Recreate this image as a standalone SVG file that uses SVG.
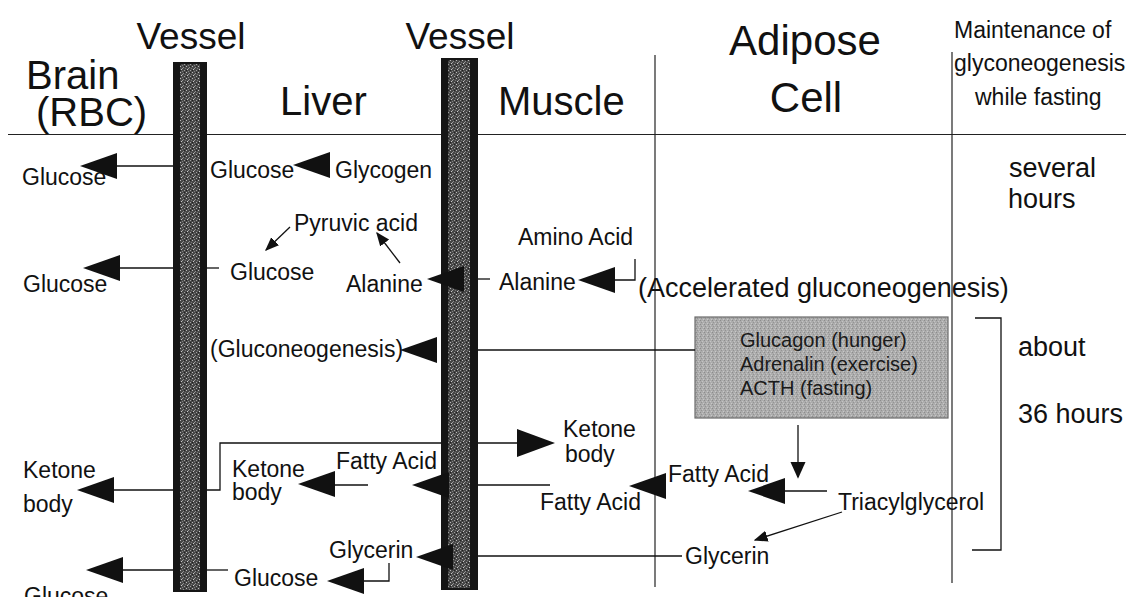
<svg xmlns="http://www.w3.org/2000/svg" width="1126" height="597" viewBox="0 0 1126 597">
<style>
.t{font-family:"Liberation Sans",Arial,sans-serif;fill:#111}
.hv{font-size:37px}
.h1{font-size:40px}
.hA{font-size:42px}
.b{font-size:23px}
.m{font-size:27px}
.s{font-size:20px;fill:#1a1a1a}
.ln{stroke:#111;stroke-width:1.3;fill:none}
.rule{stroke:#222;stroke-width:1.2;fill:none}
.hd{fill:#111}
.bar{fill:#151515}
</style>
<defs>
<pattern id="speck" width="6" height="6" patternUnits="userSpaceOnUse">
<rect width="6" height="6" fill="#474747"/>
<rect x="0" y="0" width="1" height="1" fill="#b8b8b8"/>
<rect x="3" y="1" width="1" height="1" fill="#909090"/>
<rect x="1" y="3" width="1" height="1" fill="#c8c8c8"/>
<rect x="4" y="4" width="1" height="1" fill="#a0a0a0"/>
<rect x="2" y="5" width="1" height="1" fill="#808080"/>
<rect x="5" y="2" width="1" height="1" fill="#757575"/>
<rect x="2" y="2" width="1" height="1" fill="#9a9a9a"/>
<rect x="4" y="0" width="1" height="1" fill="#222"/>
<rect x="0" y="4" width="1" height="1" fill="#1e1e1e"/>
</pattern>
<pattern id="boxtex" width="4" height="4" patternUnits="userSpaceOnUse">
<rect width="4" height="4" fill="#acacac"/>
<rect x="0" y="0" width="1" height="1" fill="#8c8c8c"/>
<rect x="2" y="1" width="1" height="1" fill="#c4c4c4"/>
<rect x="1" y="2" width="1" height="1" fill="#939393"/>
<rect x="3" y="3" width="1" height="1" fill="#c8c8c8"/>
</pattern>
<path id="hL" d="M0,0 L37,-13 L37,13 Z"/>
<path id="hR" d="M0,0 L-38,-14 L-38,14 Z"/>
<marker id="sm" viewBox="0 0 10 10" refX="9" refY="5" markerWidth="14" markerHeight="14" markerUnits="userSpaceOnUse" orient="auto">
<path d="M0,1 L10,5 L0,9 Z" fill="#111"/>
</marker>
<marker id="smd" viewBox="0 0 10 10" refX="9" refY="5" markerWidth="17" markerHeight="17" markerUnits="userSpaceOnUse" orient="auto">
<path d="M0,0.5 L10,5 L0,9.5 Z" fill="#111"/>
</marker>
</defs>
<rect width="1126" height="597" fill="#fff"/>

<g id="grid">
<line class="rule" x1="8" y1="134.5" x2="1126" y2="134.5"/>
<line class="rule" x1="655" y1="55" x2="655" y2="587"/>
<line class="rule" x1="952" y1="52" x2="952" y2="583"/>
</g>

<g id="headers">
<g id="h-vessel1"><text class="t hv" x="191" y="49" text-anchor="middle">Vessel</text></g>
<g id="h-vessel2"><text class="t hv" x="460" y="49" text-anchor="middle">Vessel</text></g>
<g id="h-brain"><text class="t h1" x="26" y="89">Brain</text><text class="t h1" x="36" y="126">(RBC)</text></g>
<g id="h-liver"><text class="t h1" x="280" y="115">Liver</text></g>
<g id="h-muscle"><text class="t h1" x="498" y="115">Muscle</text></g>
<g id="h-adipose"><text class="t hA" x="805" y="55" text-anchor="middle">Adipose</text><text class="t hA" x="806" y="112" text-anchor="middle">Cell</text></g>
<g id="h-maint"><text class="t b" x="954" y="38">Maintenance of</text><text class="t b" x="954" y="71">glyconeogenesis</text><text class="t b" x="975" y="105">while fasting</text></g>
</g>

<g id="n-glucose-b1"><text class="t b" x="22" y="185">Glucose</text></g>
<g id="n-glucose-l1"><text class="t b" x="210" y="178">Glucose</text></g>
<g id="n-glycogen"><text class="t b" x="335" y="178">Glycogen</text></g>
<g id="n-several"><text class="t m" x="1009" y="177">several</text><text class="t m" x="1008" y="208">hours</text></g>
<g id="n-pyruvic"><text class="t b" x="294" y="231">Pyruvic acid</text></g>
<g id="n-amino"><text class="t b" x="518" y="245">Amino Acid</text></g>
<g id="n-glucose-b2"><text class="t b" x="23" y="292">Glucose</text></g>
<g id="n-glucose-l2"><text class="t b" x="230" y="280">Glucose</text></g>
<g id="n-alanine-l"><text class="t b" x="346" y="292">Alanine</text></g>
<g id="n-alanine-m"><text class="t b" x="499" y="290">Alanine</text></g>
<g id="n-accel"><text class="t m" x="638" y="297">(Accelerated gluconeogenesis)</text></g>
<g id="n-gluconeo"><text class="t b" x="210" y="357">(Gluconeogenesis)</text></g>
<g id="n-hormones">
<rect x="695" y="317" width="253" height="101" fill="url(#boxtex)" stroke="#6a6a6a" stroke-width="1.2"/>
<text class="t s" x="740" y="347">Glucagon (hunger)</text>
<text class="t s" x="740" y="371">Adrenalin (exercise)</text>
<text class="t s" x="740" y="395">ACTH (fasting)</text>
</g>
<g id="n-36h"><text class="t m" x="1018" y="356">about</text><text class="t m" x="1018" y="423">36 hours</text></g>
<g id="n-ketone-m"><text class="t b" x="563" y="437">Ketone</text><text class="t b" x="565" y="462">body</text></g>
<g id="n-ketone-b"><text class="t b" x="23" y="478">Ketone</text><text class="t b" x="23" y="512">body</text></g>
<g id="n-ketone-l"><text class="t b" x="232" y="477">Ketone</text><text class="t b" x="232" y="500">body</text></g>
<g id="n-fatty-l"><text class="t b" x="336" y="469">Fatty Acid</text></g>
<g id="n-fatty-m"><text class="t b" x="540" y="510">Fatty Acid</text></g>
<g id="n-fatty-a"><text class="t b" x="668" y="482">Fatty Acid</text></g>
<g id="n-triacyl"><text class="t b" x="838" y="510">Triacylglycerol</text></g>
<g id="n-glycerin-l"><text class="t b" x="329" y="558">Glycerin</text></g>
<g id="n-glycerin-a"><text class="t b" x="685" y="564">Glycerin</text></g>
<g id="n-glucose-l3"><text class="t b" x="234" y="586">Glucose</text></g>
<g id="n-glucose-b3"><text class="t b" x="24" y="604">Glucose</text></g>

<g id="vessel1">
<rect class="bar" x="173" y="62" width="34" height="530"/>
<rect x="180" y="64" width="20" height="526" fill="url(#speck)"/>
</g>
<g id="vessel2">
<rect class="bar" x="441" y="58" width="37" height="532"/>
<rect x="448" y="60" width="22" height="528" fill="url(#speck)"/>
</g>

<g id="connectors">
<line class="ln" x1="116" y1="166" x2="173" y2="166"/>
<use href="#hL" class="hd" x="80" y="166"/>
<use href="#hL" class="hd" x="293" y="165"/>
<line class="ln" x1="290" y1="227" x2="266" y2="250" marker-end="url(#sm)"/>
<line class="ln" x1="400" y1="263" x2="377" y2="233" marker-end="url(#sm)"/>
<line class="ln" x1="119" y1="268" x2="173" y2="268"/>
<use href="#hL" class="hd" x="83" y="268"/>
<line class="ln" x1="207" y1="268" x2="219" y2="268"/>
<use href="#hL" class="hd" x="427" y="279"/>
<line class="ln" x1="478" y1="279" x2="490" y2="279"/>
<use href="#hL" class="hd" x="578" y="280"/>
<polyline class="ln" points="614,280 635,280 635,259"/>
<line class="ln" x1="478" y1="350" x2="695" y2="350"/>
<use href="#hL" class="hd" x="400" y="350"/>
<polyline class="ln" points="207,490 220,490 220,443 441,443"/>
<line class="ln" x1="478" y1="443" x2="519" y2="443"/>
<use href="#hR" class="hd" x="555" y="443"/>
<line class="ln" x1="112" y1="490" x2="173" y2="490"/>
<use href="#hL" class="hd" x="77" y="490"/>
<use href="#hL" class="hd" x="298" y="484"/>
<line class="ln" x1="333" y1="485" x2="368" y2="485"/>
<use href="#hL" class="hd" x="412" y="485"/>
<line class="ln" x1="478" y1="485" x2="550" y2="485"/>
<use href="#hL" class="hd" x="629" y="486"/>
<use href="#hL" class="hd" x="748" y="491"/>
<line class="ln" x1="783" y1="491" x2="827" y2="491"/>
<line class="ln" x1="798" y1="425" x2="798" y2="477" marker-end="url(#smd)"/>
<line class="ln" x1="842" y1="512" x2="755" y2="540" marker-end="url(#sm)"/>
<line class="ln" x1="478" y1="556" x2="682" y2="556"/>
<use href="#hL" class="hd" x="416" y="557"/>
<polyline class="ln" points="389,563 389,581 362,581"/>
<use href="#hL" class="hd" x="327" y="581"/>
<line class="ln" x1="122" y1="570" x2="173" y2="570"/>
<use href="#hL" class="hd" x="86" y="570"/>
<line class="ln" x1="207" y1="570" x2="228" y2="570"/>
<polyline class="ln" points="975,318 1001,318 1001,550 972,550"/>
</g>
</svg>
